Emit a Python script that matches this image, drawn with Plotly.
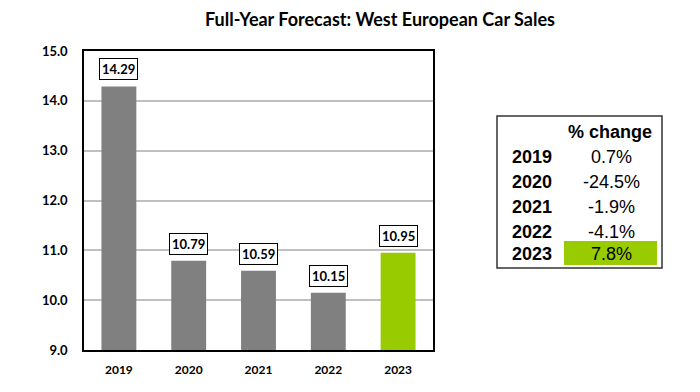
import plotly.graph_objects as go

years = ["2019", "2020", "2021", "2022", "2023"]
sales = [14.29, 10.79, 10.59, 10.15, 10.95]
bar_colors = ["#808080", "#808080", "#808080", "#808080", "#99CC00"]
pct_change = ["0.7%", "-24.5%", "-1.9%", "-4.1%", "7.8%"]
title = "Full-Year Forecast: West European Car Sales"

# page body has an 8px margin; work in reference pixels and shift
OFF = 8
W, H = 700 - OFF, 392 - OFF
L, R, T, B = 84 - OFF, 433 - OFF, 51 - OFF, 350 - OFF

def px(x):
    return (x - OFF - L) / (R - L)

def py(y):
    return (B - (y - OFF)) / (B - T)

xpos = list(range(len(years)))

fig = go.Figure(go.Bar(x=xpos, y=sales, marker_color=bar_colors, width=0.5,
                       marker_line_width=0))

for i, v in zip(xpos, sales):
    fig.add_annotation(x=i, y=v, yshift=17, text=f"<b>{v:.2f}</b>", showarrow=False,
                       bordercolor="black", borderwidth=1, bgcolor="white", borderpad=2,
                       xanchor="center", yanchor="middle",
                       font=dict(family="Lato", size=13, color="black"))

# table
fig.add_shape(type="rect", xref="paper", yref="paper",
              x0=px(497), x1=px(662), y0=py(268), y1=py(116),
              line=dict(color="#333333", width=1.5), fillcolor="white", layer="below")
fig.add_shape(type="rect", xref="paper", yref="paper",
              x0=px(564), x1=px(657), y0=py(265), y1=py(241),
              line=dict(width=0), fillcolor="#99CC00", layer="above")
tfont = dict(family="Liberation Sans", size=18, color="black")
fig.add_annotation(xref="paper", yref="paper", x=px(610), y=py(132), text="<b>% change</b>",
                   showarrow=False, xanchor="center", yanchor="middle", font=tfont)
row_y = [157, 182, 207, 232, 254]
for yr, pc, ry in zip(years, pct_change, row_y):
    fig.add_annotation(xref="paper", yref="paper", x=px(532), y=py(ry), text=f"<b>{yr}</b>",
                       showarrow=False, xanchor="center", yanchor="middle", font=tfont)
    fig.add_annotation(xref="paper", yref="paper", x=px(611), y=py(ry), text=pc,
                       showarrow=False, xanchor="center", yanchor="middle", font=tfont)

fig.update_layout(
    width=W, height=H,
    margin=dict(l=L, r=W - R, t=T, b=H - B, autoexpand=False),
    paper_bgcolor="white", plot_bgcolor="white",
    title=dict(text="<b>" + title + "</b>", x=px(380), xref="paper", xanchor="center",
               y=1 - (20 - OFF) / H, yanchor="middle",
               font=dict(family="Lato", size=18, color="black")),
    showlegend=False,
)
fig.update_yaxes(range=[9, 15], dtick=1, tickformat=".1f", showgrid=True, gridcolor="#BFBFBF",
                 gridwidth=1.5, showline=True, linecolor="black", linewidth=1.5, mirror=True,
                 ticks="", ticklabelstandoff=12, automargin=False, zeroline=False,
                 tickfont=dict(family="Lato", size=13, color="black", weight="bold"))
fig.update_xaxes(range=[-0.5, len(years) - 0.5], tickvals=xpos, ticktext=years,
                 showline=True, linecolor="black", linewidth=1.5, mirror=True,
                 ticks="", ticklabelstandoff=8, automargin=False, showgrid=False, zeroline=False,
                 tickfont=dict(family="Lato", size=12, color="black", weight="bold"))

fig.write_html("out.html")
